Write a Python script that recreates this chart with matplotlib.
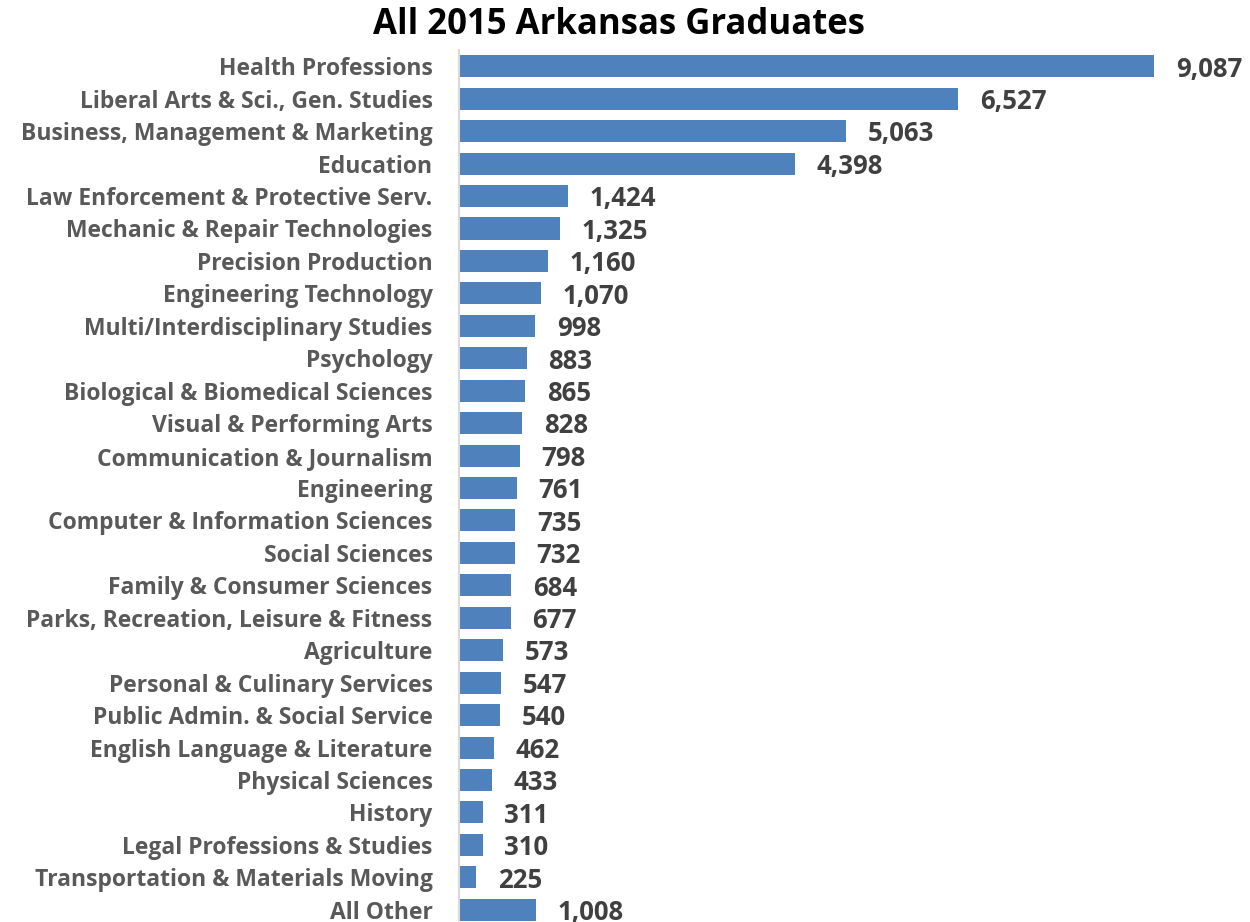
import matplotlib.pyplot as plt

# Graduates by field of study, top to bottom as shown
fields = [
    "Health Professions",
    "Liberal Arts & Sci., Gen. Studies",
    "Business, Management & Marketing",
    "Education",
    "Law Enforcement & Protective Serv.",
    "Mechanic & Repair Technologies",
    "Precision Production",
    "Engineering Technology",
    "Multi/Interdisciplinary Studies",
    "Psychology",
    "Biological & Biomedical Sciences",
    "Visual & Performing Arts",
    "Communication & Journalism",
    "Engineering",
    "Computer & Information Sciences",
    "Social Sciences",
    "Family & Consumer Sciences",
    "Parks, Recreation, Leisure & Fitness",
    "Agriculture",
    "Personal & Culinary Services",
    "Public Admin. & Social Service",
    "English Language & Literature",
    "Physical Sciences",
    "History",
    "Legal Professions & Studies",
    "Transportation & Materials Moving",
    "All Other",
]
graduates = [9087, 6527, 5063, 4398, 1424, 1325, 1160, 1070, 998, 883, 865,
             828, 798, 761, 735, 732, 684, 677, 573, 547, 540, 462, 433,
             311, 310, 225, 1008]

plt.rcParams['font.family'] = ['Open Sans', 'DejaVu Sans']

fig = plt.figure(figsize=(12.5, 9.22), dpi=100)
ax = fig.add_axes([459 / 1250, -0.0043, 781 / 1250, 0.950])

pos = list(range(len(fields)))
ax.barh(pos, graduates, height=0.68, color='#4F81BD')
ax.set_ylim(len(fields) - 0.5, -0.5)
ax.set_xlim(0, 781 / 0.0765)

for p, v in zip(pos, graduates):
    ax.annotate(f"{v:,}", (v, p), xytext=(15.5, -2), textcoords='offset points',
                ha='left', va='center', fontsize=18.5, fontweight='bold',
                color='#404040')

ax.set_yticks(pos)
ax.set_yticklabels(fields, fontsize=16.5, fontweight='bold', color='#595959')
ax.tick_params(axis='y', length=0, pad=19)
ax.set_xticks([])
for side in ['top', 'right', 'bottom']:
    ax.spines[side].set_visible(False)
ax.spines['left'].set_color('#D9D9D9')
ax.spines['left'].set_linewidth(1.5)

fig.text(619 / 1250, 1 - 25 / 922, "All 2015 Arkansas Graduates", ha='center',
         va='center', fontsize=25, fontweight='bold', color='black')

fig.savefig('out.png', dpi=100)
